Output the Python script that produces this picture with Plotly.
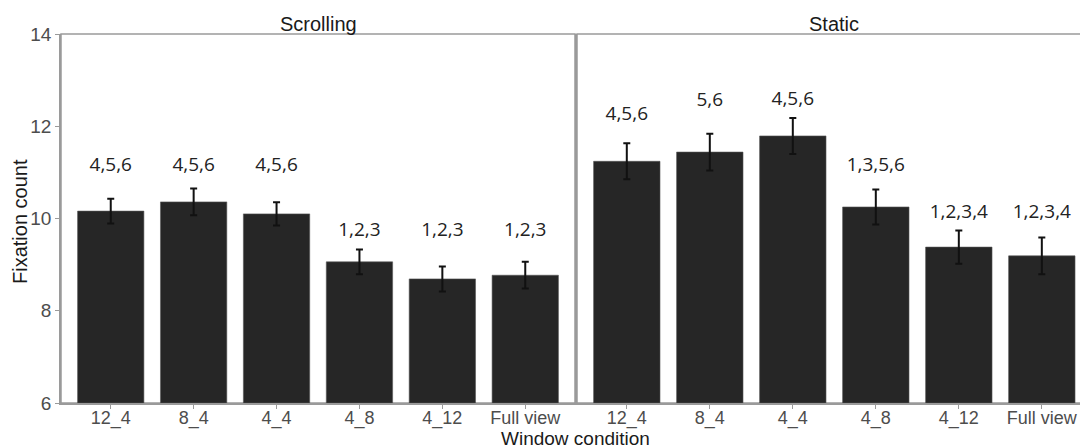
import plotly.graph_objects as go

categories = ["12_4", "8_4", "4_4", "4_8", "4_12", "Full view"]
panels = ["Scrolling", "Static"]

scroll_mean = [10.16, 10.36, 10.10, 9.06, 8.69, 8.77]
scroll_se = [0.27, 0.29, 0.25, 0.27, 0.27, 0.29]
static_mean = [11.24, 11.44, 11.79, 10.25, 9.38, 9.19]
static_se = [0.39, 0.40, 0.39, 0.38, 0.36, 0.40]

scroll_labels = ["4,5,6", "4,5,6", "4,5,6", "1,2,3", "1,2,3", "1,2,3"]
static_labels = ["4,5,6", "5,6", "4,5,6", "1,3,5,6", "1,2,3,4", "1,2,3,4"]
scroll_label_y = [11.14, 11.14, 11.14, 9.73, 9.73, 9.73]
static_label_y = [12.24, 12.54, 12.57, 11.14, 10.12, 10.12]

y_ticks = [6, 8, 10, 12, 14]

BAR = "#262626"
GRID = "#9a9a9a"
TICKC = "#4d4d4d"
SANS = "Liberation Sans, Arial, sans-serif"
LBL = "Open Sans, Noto Sans, sans-serif"

fig = go.Figure()

for i, (means, ses, labs, ly) in enumerate([
        (scroll_mean, scroll_se, scroll_labels, scroll_label_y),
        (static_mean, static_se, static_labels, static_label_y)]):
    xa = "x" if i == 0 else "x2"
    ya = "y" if i == 0 else "y2"
    fig.add_trace(go.Bar(
        x=categories, y=[m - 6 for m in means], base=6,
        width=0.8, xaxis=xa, yaxis=ya,
        marker=dict(color=BAR, line=dict(color="#555555", width=0.6)),
        error_y=dict(type="data", array=ses, visible=True,
                     color="#111111", thickness=2, width=3.5),
        showlegend=False, hoverinfo="skip"))
    fig.add_trace(go.Scatter(
        x=categories, y=ly, mode="text", text=labs,
        textposition="middle center",
        textfont=dict(family=LBL, size=19, color="#222222"),
        xaxis=xa, yaxis=ya, showlegend=False, hoverinfo="skip"))

W, H = 1080, 448
ml, mr, mt, mb = 61, 0, 34, 45
pw = W - ml - mr
d1 = [0, 514 / pw]
d2 = [516 / pw, 1]

xcommon = dict(type="category", categoryorder="array", categoryarray=categories,
               showline=True, linecolor=GRID, linewidth=1.5,
               ticks="outside", ticklen=4, tickcolor=GRID, tickwidth=1,
               ticklabelstandoff=-6,
               tickfont=dict(family=SANS, size=18, color=TICKC),
               showgrid=False, zeroline=False, fixedrange=True)
ycommon = dict(range=[6, 14], tickvals=y_ticks, showgrid=False, zeroline=False,
               showline=True, linecolor=GRID, linewidth=1.5, fixedrange=True)

fig.update_layout(
    width=W, height=H,
    margin=dict(l=ml, r=mr, t=mt, b=mb, pad=0),
    paper_bgcolor="white", plot_bgcolor="white",
    bargap=0.2,
    xaxis=dict(domain=d1, range=[-0.6, 5.6], anchor="y", **xcommon),
    xaxis2=dict(domain=d2, range=[-0.6, 5.46], anchor="y2", **xcommon),
    yaxis=dict(anchor="x", ticks="outside", ticklen=4, tickcolor=GRID,
               tickfont=dict(family=SANS, size=19, color=TICKC), **ycommon),
    yaxis2=dict(anchor="x2", matches="y", showticklabels=False, ticks="", **ycommon),
)

# panel borders
fig.add_shape(type="rect", xref="x domain", yref="y domain", x0=0, x1=1, y0=0, y1=1,
              line=dict(color=GRID, width=1.5), fillcolor="rgba(0,0,0,0)", layer="below")
fig.add_shape(type="rect", xref="x2 domain", yref="y2 domain", x0=0, x1=1.05, y0=0, y1=1,
              line=dict(color=GRID, width=1.5), fillcolor="rgba(0,0,0,0)", layer="below")

# strip titles
fig.add_annotation(text=panels[0], xref="x domain", yref="y domain", x=0.5, y=1,
                   yanchor="bottom", showarrow=False, yshift=-3,
                   font=dict(family=SANS, size=20, color="#1a1a1a"))
fig.add_annotation(text=panels[1], xref="x2 domain", yref="y2 domain", x=(514 / 2) / 503, y=1,
                   yanchor="bottom", showarrow=False, yshift=-3,
                   font=dict(family=SANS, size=20, color="#1a1a1a"))

# axis titles
fig.add_annotation(text="Window condition", xref="paper", yref="paper",
                   x=(575 - ml) / pw, y=-(mb + 3) / (H - mt - mb),
                   xanchor="center", yanchor="bottom", showarrow=False,
                   font=dict(family=SANS, size=19, color="#1a1a1a"))
fig.add_annotation(text="Fixation count", xref="paper", yref="paper",
                   x=(20 - ml) / pw, y=(H - mb - 222) / (H - mt - mb),
                   xanchor="center", yanchor="middle", textangle=-90, showarrow=False,
                   font=dict(family=SANS, size=20, color="#1a1a1a"))

fig.write_html("out.html")
